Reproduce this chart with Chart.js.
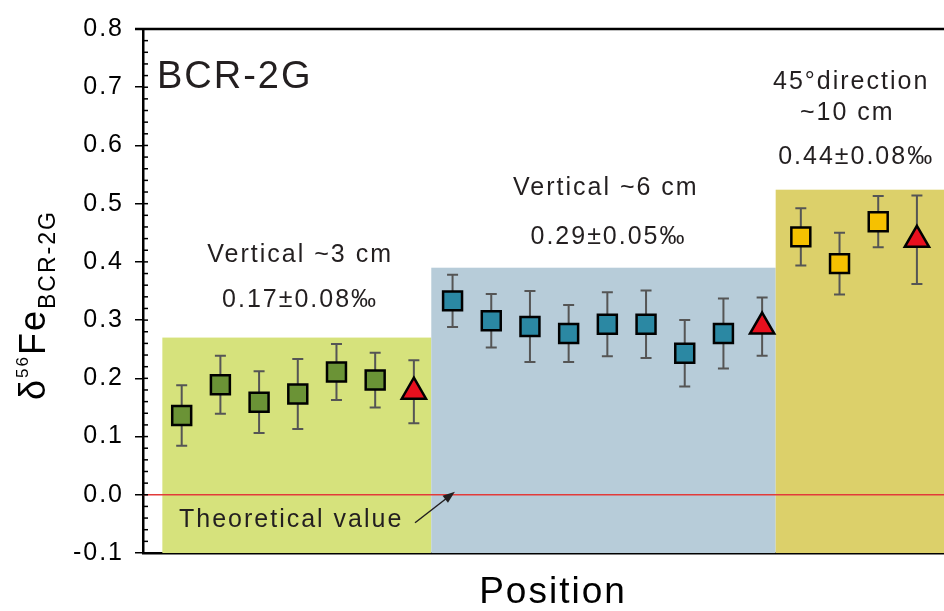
<!DOCTYPE html>
<html>
<head>
<meta charset="utf-8">
<script src="https://cdn.jsdelivr.net/npm/chart.js@4.4.0/dist/chart.umd.min.js"></script>
<style>
  html, body { margin: 0; padding: 0; background: #fff; }
  #wrap { width: 944px; height: 611px; position: relative; }
</style>
</head>
<body>
<div id="wrap"><canvas id="fe_chart"></canvas></div>
<script>
// sample position index and measured d56Fe (per mil) with 2SD
var xGreen = [0, 1, 2, 3, 4, 5];
var yGreen = [0.136, 0.189, 0.159, 0.173, 0.211, 0.197];
var eGreen = [0.052, 0.050, 0.053, 0.060, 0.048, 0.047];

var xBlue = [7, 8, 9, 10, 11, 12, 13, 14];
var yBlue = [0.333, 0.299, 0.289, 0.277, 0.293, 0.293, 0.243, 0.277];
var eBlue = [0.045, 0.046, 0.061, 0.049, 0.055, 0.058, 0.057, 0.060];

var xYellow = [16, 17, 18];
var yYellow = [0.443, 0.397, 0.469];
var eYellow = [0.049, 0.053, 0.044];

// group averages (triangles)
var xMean = [6, 15, 19];
var yMean = [0.177, 0.289, 0.438];
var eMean = [0.054, 0.050, 0.076];

// shaded ranges of each group
var bandStart = [-0.5, 6.45, 15.35];
var bandEnd = [6.45, 15.35, 19.7];
var bandTop = [0.27, 0.39, 0.524];
var bandColor = ['#d6e27c', '#b7ccd9', '#dcd06a'];

var FONT = '"Liberation Sans", Arial, Helvetica, sans-serif';

// text labels placed in data coordinates
var notes = [
    { text: 'BCR-2G', x: -0.64, y: 0.716, size: 38, align: 'left' },
    { text: 'Vertical ~3 cm', x: 3.06, y: 0.412, size: 25, align: 'center' },
    { text: '0.17\u00b10.08\u2030', x: 3.06, y: 0.335, size: 25, align: 'center' },
    { text: 'Vertical ~6 cm', x: 10.96, y: 0.527, size: 25, align: 'center' },
    { text: '0.29\u00b10.05\u2030', x: 11.03, y: 0.443, size: 25, align: 'center' },
    { text: '45\u00b0direction', x: 17.3, y: 0.709, size: 25, align: 'center' },
    { text: '~10 cm', x: 17.2, y: 0.656, size: 25, align: 'center' },
    { text: '0.44\u00b10.08\u2030', x: 17.43, y: 0.58, size: 25, align: 'center' },
    { text: 'Theoretical value', x: -0.07, y: -0.043, size: 25, align: 'left' }
];

function toPoints(xs, ys) {
    return xs.map(function (x, i) { return { x: x, y: ys[i] }; });
}

var seriesErr = [eGreen, eBlue, eYellow, eMean];

var bgPlugin = {
    id: 'bands',
    beforeDraw: function (chart) {
        chart.ctx.letterSpacing = '2px';
    },
    beforeDatasetsDraw: function (chart) {
        var ctx = chart.ctx, xs = chart.scales.x, ys = chart.scales.y, a = chart.chartArea;
        ctx.save();
        // shaded bands
        for (var i = 0; i < bandStart.length; i++) {
            var l = xs.getPixelForValue(bandStart[i]);
            var r = Math.min(xs.getPixelForValue(bandEnd[i]), a.right);
            var t = ys.getPixelForValue(bandTop[i]);
            ctx.fillStyle = bandColor[i];
            ctx.fillRect(l, t, r - l, a.bottom - t);
        }
        // theoretical value line
        var y0 = ys.getPixelForValue(0);
        ctx.strokeStyle = '#e23a3a';
        ctx.lineWidth = 1.5;
        ctx.beginPath();
        ctx.moveTo(a.left, y0);
        ctx.lineTo(a.right, y0);
        ctx.stroke();
        // error bars
        ctx.strokeStyle = '#555555';
        ctx.lineWidth = 2;
        chart.data.datasets.forEach(function (ds, di) {
            var err = seriesErr[di];
            ds.data.forEach(function (p, pi) {
                var px = xs.getPixelForValue(p.x);
                var top = ys.getPixelForValue(p.y + err[pi]);
                var bot = ys.getPixelForValue(p.y - err[pi]);
                ctx.beginPath();
                ctx.moveTo(px, top); ctx.lineTo(px, bot);
                ctx.moveTo(px - 5.5, top); ctx.lineTo(px + 5.5, top);
                ctx.moveTo(px - 5.5, bot); ctx.lineTo(px + 5.5, bot);
                ctx.stroke();
            });
        });
        ctx.restore();
    },
    afterDraw: function (chart) {
        var ctx = chart.ctx, xs = chart.scales.x, ys = chart.scales.y, a = chart.chartArea;
        ctx.save();
        ctx.letterSpacing = '2px';
        // top frame line
        ctx.strokeStyle = '#000';
        ctx.lineWidth = 2.5;
        ctx.beginPath();
        ctx.moveTo(a.left - 8, a.top);
        ctx.lineTo(a.right, a.top);
        ctx.stroke();
        // inner ticks (major every 0.1, minor every 0.02)
        ctx.lineWidth = 1.5;
        for (var k = -5; k <= 40; k++) {
            var py = ys.getPixelForValue(k * 0.02);
            ctx.beginPath();
            ctx.moveTo(a.left, py);
            ctx.lineTo(a.left + 5, py);
            ctx.stroke();
        }
        // notes
        ctx.fillStyle = '#231f20';
        ctx.textBaseline = 'middle';
        notes.forEach(function (n) {
            ctx.font = n.size + 'px ' + FONT;
            ctx.textAlign = n.align;
            ctx.fillText(n.text, xs.getPixelForValue(n.x), ys.getPixelForValue(n.y));
        });
        // arrow to theoretical line
        var x1 = xs.getPixelForValue(6.03), y1 = ys.getPixelForValue(-0.048);
        var x2 = xs.getPixelForValue(7.06), y2 = ys.getPixelForValue(0.005);
        var ang = Math.atan2(y2 - y1, x2 - x1);
        ctx.strokeStyle = '#231f20';
        ctx.lineWidth = 1.5;
        ctx.beginPath();
        ctx.moveTo(x1, y1);
        ctx.lineTo(x2 - 8 * Math.cos(ang), y2 - 8 * Math.sin(ang));
        ctx.stroke();
        ctx.beginPath();
        ctx.moveTo(x2, y2);
        ctx.lineTo(x2 - 13 * Math.cos(ang - 0.35), y2 - 13 * Math.sin(ang - 0.35));
        ctx.lineTo(x2 - 13 * Math.cos(ang + 0.35), y2 - 13 * Math.sin(ang + 0.35));
        ctx.closePath();
        ctx.fill();
        // x title
        ctx.fillStyle = '#000';
        ctx.font = '37px ' + FONT;
        ctx.textAlign = 'center';
        ctx.fillText('Position', 553, 593);
        // y title: d56Fe with subscript BCR-2G
        ctx.translate(45, 0);
        ctx.rotate(-Math.PI / 2);
        var parts = [
            { t: '\u03b4', s: 36, dy: 0 },
            { t: '56', s: 17, dy: -17 },
            { t: 'Fe', s: 36, dy: 0 },
            { t: 'BCR-2G', s: 23, dy: 10 }
        ];
        var total = 0;
        parts.forEach(function (p) {
            ctx.font = p.s + 'px ' + FONT;
            p.w = ctx.measureText(p.t).width;
            total += p.w;
        });
        var pos = -(305 + total / 2);
        ctx.textAlign = 'left';
        ctx.textBaseline = 'alphabetic';
        parts.forEach(function (p) {
            ctx.font = p.s + 'px ' + FONT;
            ctx.fillText(p.t, pos, p.dy);
            pos += p.w;
        });
        ctx.restore();
    }
};

function markerSet(xs, ys, fill, style, radius) {
    return {
        data: toPoints(xs, ys),
        pointStyle: style,
        pointRadius: radius,
        pointHoverRadius: radius,
        pointBackgroundColor: fill,
        pointBorderColor: '#000',
        pointBorderWidth: 2.5,
        showLine: false,
        clip: false
    };
}

var ctx = document.getElementById('fe_chart').getContext('2d');
var feChart = new Chart(ctx, {
    type: 'scatter',
    data: {
        datasets: [
            markerSet(xGreen, yGreen, '#6b9336', 'rect', 13.4),
            markerSet(xBlue, yBlue, '#2b88a3', 'rect', 13.4),
            markerSet(xYellow, yYellow, '#f6c100', 'rect', 13.4),
            markerSet(xMean, yMean, '#e8101e', 'triangle', 14)
        ]
    },
    options: {
        responsive: true,
        maintainAspectRatio: false,
        animation: false,
        layout: { autoPadding: false, padding: { top: 29, left: 0, right: 0, bottom: 0 } },
        plugins: {
            legend: { display: false },
            tooltip: { enabled: false }
        },
        scales: {
            x: {
                type: 'linear',
                min: -1,
                max: 19.7,
                ticks: { display: false },
                grid: { display: false },
                border: { display: true, color: '#000', width: 2.5 },
                afterFit: function (scale) {
                    scale.height = 58;
                    scale.paddingLeft = 0;
                    scale.paddingRight = 0;
                }
            },
            y: {
                min: -0.1,
                max: 0.8,
                ticks: {
                    stepSize: 0.1,
                    color: '#000',
                    padding: 11,
                    font: { size: 25, family: FONT },
                    callback: function (v) { return v.toFixed(1); }
                },
                grid: {
                    drawOnChartArea: false,
                    drawTicks: true,
                    tickLength: 8,
                    color: '#000',
                    lineWidth: 1.5
                },
                border: { display: true, color: '#000', width: 2.5 },
                afterFit: function (scale) {
                    scale.width = 143;
                    scale.paddingTop = 0;
                    scale.paddingBottom = 0;
                }
            }
        }
    },
    plugins: [bgPlugin]
});
</script>
</body>
</html>
